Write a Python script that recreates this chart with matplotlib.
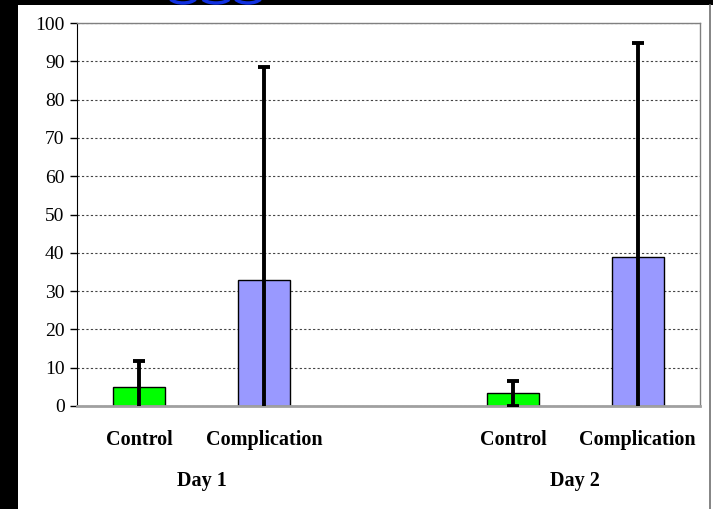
import matplotlib.pyplot as plt
from matplotlib.patches import Arc, Rectangle
from matplotlib.lines import Line2D

# Group means and standard deviations
groups = ['Control', 'Complication', 'Control', 'Complication']
days = ['Day 1', 'Day 2']
means = [5.0, 33.0, 3.3, 39.0]
sds = [6.8, 55.5, 3.2, 55.7]
colors = ['#00ff00', '#9999ff', '#00ff00', '#9999ff']
slots = [0, 1, 3, 4]  # slot 2 left empty between the days

plt.rcParams['font.family'] = ['Liberation Serif', 'DejaVu Serif']

fig = plt.figure(figsize=(7.13, 5.09), dpi=100)
fig.patch.set_facecolor('white')

# black frame strips along the left and top
fig.patches.append(Rectangle((0, 0), 18 / 713, 1, transform=fig.transFigure,
                             facecolor='black', edgecolor='none', zorder=0))
fig.patches.append(Rectangle((0, 1 - 4.5 / 509), 1, 4.5 / 509, transform=fig.transFigure,
                             facecolor='black', edgecolor='none', zorder=0))
fig.lines.append(Line2D([710 / 713, 710 / 713], [0, 1 - 4.5 / 509], transform=fig.transFigure,
                        color='#707070', lw=1.2))
# bits of the blue logo peeking in at the top
for cx, w in [(183, 28), (216, 30), (248, 28)]:
    fig.patches.append(Arc((cx / 713, 1 + 4 / 509), w / 713, 14 / 509, theta1=200, theta2=340,
                           transform=fig.transFigure, color='#1030e0', lw=2.5))

ax = fig.add_axes([77 / 713, 1 - 406 / 509, 623 / 713, 383 / 509])

ax.bar(slots, means, width=0.42, color=colors, edgecolor='black', linewidth=1, zorder=2)
ax.errorbar(slots, means, yerr=sds, fmt='none', ecolor='black', elinewidth=2.8,
            capsize=4.5, capthick=2.8, zorder=3)

ax.set_xlim(-0.5, 4.5)
ax.set_ylim(0, 100)
ax.set_yticks(range(0, 101, 10))
ax.yaxis.grid(True, linestyle=(0, (2, 2)), color='#444444', linewidth=0.8)
ax.set_axisbelow(True)

ax.tick_params(axis='y', labelsize=14, length=5, width=1, color='black', pad=4)
ax.tick_params(axis='x', length=0)
ax.set_xticks(slots)
ax.set_xticklabels(groups, fontsize=14.5, fontweight='bold', fontfamily='Liberation Serif')
ax.tick_params(axis='x', pad=17)

ax.spines['left'].set_color('black')
ax.spines['bottom'].set_color('#a0a0a0')
ax.spines['bottom'].set_linewidth(2)
for side in ['top', 'right']:
    ax.spines[side].set_color('#808080')
    ax.spines[side].set_linewidth(1)

# day labels under each pair of bars
for i, day in enumerate(days):
    xc = (slots[2 * i] + slots[2 * i + 1]) / 2
    ax.text(xc, -19.5, day, ha='center', va='center', fontsize=14.5, fontweight='bold',
            transform=ax.transData, clip_on=False)

fig.savefig('out.png', dpi=100)
